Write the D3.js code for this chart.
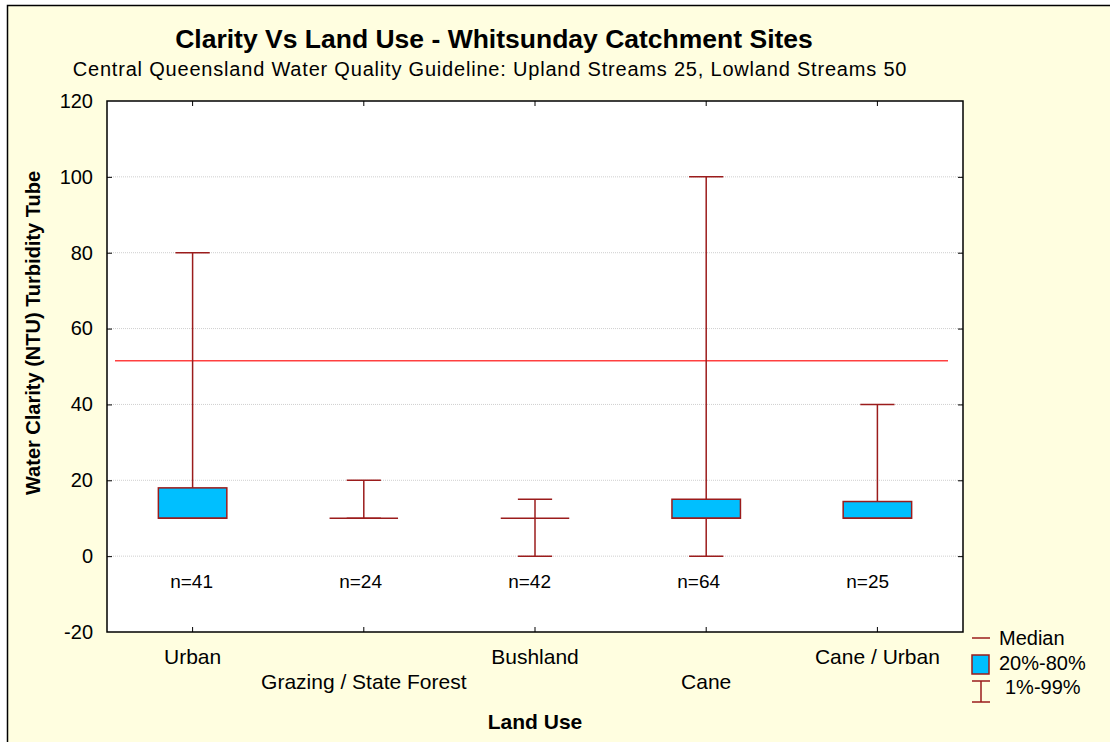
<!DOCTYPE html>
<html>
<head>
<meta charset="UTF-8">
<title>Clarity Vs Land Use</title>
<script src="https://d3js.org/d3.v7.min.js"></script>
<style>
  body { margin: 0; background: #fff; }
  text { font-family: "Liberation Sans", Arial, sans-serif; fill: #000; }
</style>
</head>
<body>
<svg id="chart" width="1110" height="742"></svg>
<script>
// data
var categories = ["Urban", "Grazing / State Forest", "Bushland", "Cane", "Cane / Urban"];
var p01    = [10, 10, 0, 0, 10];
var p20    = [10, 10, 10, 10, 10];
var median = [10, 10, 10, 10, 10];
var p80    = [18, 10, 10, 15, 14.4];
var p99    = [80, 20, 15, 100, 40];
var counts = [41, 24, 42, 64, 25];
var yTicks = [-20, 0, 20, 40, 60, 80, 100, 120];
var guideline = 51.5;

var svg = d3.select("#chart");
var boxStroke = "#9b1c1c", boxFill = "#00bfff";

// background panel with left/top border
svg.append("rect").attr("x", 7).attr("y", 5).attr("width", 1103).attr("height", 737).attr("fill", "#fffee0");
svg.append("path").attr("d", "M7.5,742V5.5H1110").attr("fill", "none").attr("stroke", "#000").attr("stroke-width", 1.5);

var pLeft = 107, pRight = 963, pTop = 101, pBottom = 632;

var x = d3.scaleBand().domain(categories).range([pLeft, pRight]);
var y = d3.scaleLinear().domain([-20, 120]).range([pBottom, pTop]);
var bw = x.bandwidth();

svg.append("rect").attr("x", pLeft).attr("y", pTop).attr("width", pRight - pLeft).attr("height", pBottom - pTop).attr("fill", "#fff");

// grid
svg.append("g").selectAll("line").data(yTicks.slice(1, -1)).enter().append("line")
  .attr("x1", pLeft).attr("x2", pRight)
  .attr("y1", function(d) { return y(d); }).attr("y2", function(d) { return y(d); })
  .attr("stroke", "#cfcfcf").attr("stroke-dasharray", "1,1");

// guideline
svg.append("line").attr("x1", pLeft + 8).attr("x2", pRight - 15)
  .attr("y1", y(guideline)).attr("y2", y(guideline))
  .attr("stroke", "#ff4040").attr("stroke-width", 1.5);

// axes (inward ticks on all four sides)
var ax = svg.append("g");
ax.append("g").attr("transform", "translate(" + pLeft + ",0)")
  .call(d3.axisLeft(y).tickValues(yTicks).tickSizeInner(0).tickSizeOuter(0).tickPadding(14)
    .tickFormat(function(d) { return String(d); }))
  .call(function(g) { g.select(".domain").remove(); })
  .selectAll("text").style("font-size", "20px").attr("fill", "#000");
ax.append("g").attr("transform", "translate(" + pLeft + ",0)")
  .call(d3.axisRight(y).tickValues(yTicks.slice(1, -1)).tickSize(5).tickSizeOuter(0).tickFormat(""))
  .call(function(g) { g.select(".domain").remove(); });
ax.append("g").attr("transform", "translate(" + pRight + ",0)")
  .call(d3.axisLeft(y).tickValues(yTicks.slice(1, -1)).tickSize(5).tickSizeOuter(0).tickFormat(""))
  .call(function(g) { g.select(".domain").remove(); });
ax.append("g").attr("transform", "translate(0," + pBottom + ")")
  .call(d3.axisTop(x).tickSize(5).tickSizeOuter(0).tickFormat(""))
  .call(function(g) { g.select(".domain").remove(); });
ax.append("g").attr("transform", "translate(0," + pTop + ")")
  .call(d3.axisBottom(x).tickSize(5).tickSizeOuter(0).tickFormat(""))
  .call(function(g) { g.select(".domain").remove(); });
ax.selectAll(".tick line").attr("stroke", "#000");

svg.append("rect").attr("x", pLeft).attr("y", pTop).attr("width", pRight - pLeft).attr("height", pBottom - pTop)
  .attr("fill", "none").attr("stroke", "#000").attr("stroke-width", 1.5);

// boxes
var rows = categories.map(function(c, i) {
  return { c: c, lo: p01[i], q1: p20[i], med: median[i], q3: p80[i], hi: p99[i], n: counts[i] };
});
var g = svg.append("g").selectAll("g").data(rows).enter().append("g")
  .attr("transform", function(d) { return "translate(" + (x(d.c) + bw / 2) + ",0)"; });

g.append("line").attr("y1", function(d) { return y(d.lo); }).attr("y2", function(d) { return y(d.hi); })
  .attr("stroke", boxStroke).attr("stroke-width", 1.5);
g.append("line").attr("x1", -bw * 0.1).attr("x2", bw * 0.1)
  .attr("y1", function(d) { return y(d.hi); }).attr("y2", function(d) { return y(d.hi); })
  .attr("stroke", boxStroke).attr("stroke-width", 1.5);
g.append("line").attr("x1", -bw * 0.1).attr("x2", bw * 0.1)
  .attr("y1", function(d) { return y(d.lo); }).attr("y2", function(d) { return y(d.lo); })
  .attr("stroke", boxStroke).attr("stroke-width", 1.5);
g.filter(function(d) { return d.q3 > d.q1; }).append("rect")
  .attr("x", -bw * 0.2).attr("width", bw * 0.4)
  .attr("y", function(d) { return y(d.q3); }).attr("height", function(d) { return y(d.q1) - y(d.q3); })
  .attr("fill", boxFill).attr("stroke", boxStroke).attr("stroke-width", 1.5);
g.append("line").attr("x1", -bw * 0.2).attr("x2", bw * 0.2)
  .attr("y1", function(d) { return y(d.med); }).attr("y2", function(d) { return y(d.med); })
  .attr("stroke", boxStroke).attr("stroke-width", 1.5);
g.append("text").attr("x", function(d, i) { return -1 - i * 2.2; }).attr("y", y(-6.6)).attr("dy", "0.35em")
  .attr("text-anchor", "middle").style("font-size", "19px")
  .text(function(d) { return "n=" + d.n; });

// category labels, staggered
svg.append("g").selectAll("text").data(categories).enter().append("text")
  .attr("x", function(d) { return x(d) + bw / 2; })
  .attr("y", function(d, i) { return i % 2 ? 682 : 657; })
  .attr("dy", "0.35em").attr("text-anchor", "middle").style("font-size", "21px")
  .text(function(d) { return d; });

// titles
svg.append("text").attr("x", 494).attr("y", 48).attr("text-anchor", "middle")
  .style("font-size", "26.5px").style("font-weight", "bold")
  .text("Clarity Vs Land Use - Whitsunday Catchment Sites");
svg.append("text").attr("x", 490).attr("y", 76).attr("text-anchor", "middle")
  .style("font-size", "20px").style("letter-spacing", "0.8px")
  .text("Central Queensland Water Quality Guideline: Upland Streams 25, Lowland Streams 50");
svg.append("text").attr("x", 535).attr("y", 722).attr("dy", "0.35em").attr("text-anchor", "middle")
  .style("font-size", "21px").style("font-weight", "bold").text("Land Use");
svg.append("text").attr("transform", "translate(33,333) rotate(-90)").attr("dy", "0.35em")
  .attr("text-anchor", "middle").style("font-size", "20px").style("font-weight", "bold")
  .text("Water Clarity (NTU) Turbidity Tube");

// legend
var lg = svg.append("g");
lg.append("line").attr("x1", 972).attr("x2", 990).attr("y1", 638).attr("y2", 638).attr("stroke", boxStroke).attr("stroke-width", 1.5);
lg.append("rect").attr("x", 972).attr("y", 655).attr("width", 17).attr("height", 19)
  .attr("fill", boxFill).attr("stroke", boxStroke).attr("stroke-width", 1.5);
lg.append("path").attr("d", "M972,681H990M981,681V702M972,702H990").attr("fill", "none").attr("stroke", boxStroke).attr("stroke-width", 1.5);
var legendText = ["Median", "20%-80%", "1%-99%"];
lg.selectAll("text").data(legendText).enter().append("text")
  .attr("x", function(d, i) { return i === 2 ? 1005 : 999; })
  .attr("y", function(d, i) { return 638 + i * 24.5; })
  .attr("dy", "0.35em").style("font-size", "20px").text(function(d) { return d; });
</script>
</body>
</html>
